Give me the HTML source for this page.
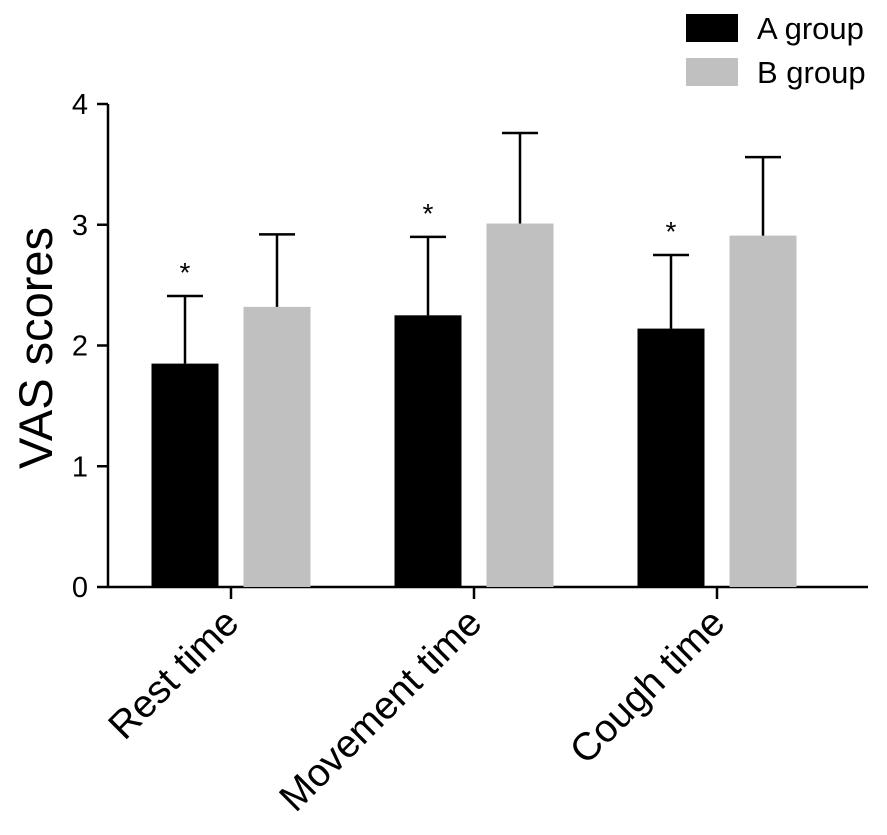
<!DOCTYPE html>
<html><head><meta charset="utf-8"><style>
body{margin:0;background:#fff;}
svg{display:block;font-family:"Liberation Sans",Arial,sans-serif;}
</style></head><body>
<svg id="chart" width="887" height="835"></svg>
<script>
const categories=["Rest time","Movement time","Cough time"];
const seriesA=[1.85,2.25,2.14];
const errA=[0.56,0.65,0.61];
const seriesB=[2.32,3.01,2.91];
const errB=[0.60,0.75,0.65];
const yTicks=[0,1,2,3,4];
const ns="http://www.w3.org/2000/svg";
const svg=document.getElementById('chart');
const y0=587,y4=104,yMax=4;
function y(v){return y0-(y0-y4)*v/yMax;}
const groupCenters0=231,groupStep=243;
function gx(i){return groupCenters0+i*groupStep;}
function mk(tag,attrs,parent){const e=document.createElementNS(ns,tag);for(const k in attrs)e.setAttribute(k,attrs[k]);(parent||svg).appendChild(e);return e;}
let ax=mk('line',{x1:108,y1:y4,x2:108,y2:y0+1,stroke:'#000','stroke-width':2.5});


let axx=mk('line',{x1:107,y1:y0,x2:868,y2:y0,stroke:'#000','stroke-width':2.5});


yTicks.forEach(t=>{
  let l=mk('line',{x1:97,y1:y(t),x2:108,y2:y(t),stroke:'#000','stroke-width':2.5});
  
  
  let tx=mk('text',{x:88,y:y(t)+10,'text-anchor':'end','font-size':29,fill:'#000'});
  tx.textContent=t;
  
  
});
let yl=mk('text',{x:0,y:0,'font-size':47,'text-anchor':'middle',transform:'translate(52,348) rotate(-90)',fill:'#000'});
yl.textContent='VAS scores';


function bar(cx,v,e,fill,name){
  const w=67,bx=cx-w/2;
  const r=mk('rect',{x:bx,y:y(v),width:w,height:y0-y(v),fill:fill});
  
  
  const ex=cx;
  const l=mk('line',{x1:ex,y1:y(v),x2:ex,y2:y(v+e),stroke:'#000','stroke-width':2.5});
  
  
  const c=mk('line',{x1:ex-18,y1:y(v+e),x2:ex+18,y2:y(v+e),stroke:'#000','stroke-width':2.5});
  
  
}
categories.forEach((c,i)=>{
  const cx=gx(i);
  bar(cx-46,seriesA[i],errA[i],'#000','bar-a-'+i);
  bar(cx+46,seriesB[i],errB[i],'#c0c0c0','bar-b-'+i);
  const s=mk('text',{x:cx-46,y:y(seriesA[i]+errA[i])-14,'text-anchor':'middle','font-size':28,fill:'#000'});
  s.textContent='*';
  
  
  const t=mk('line',{x1:cx,y1:y0,x2:cx,y2:y0+12,stroke:'#000','stroke-width':2.5});
  
  
  const lb=mk('text',{x:0,y:0,'text-anchor':'end','font-size':39,fill:'#000',transform:`translate(${cx+10},${y0+38}) rotate(-45)`});
  lb.textContent=c;
  
  
});
[['A group','#000',14],['B group','#c0c0c0',58]].forEach(([n,f,ty],i)=>{
  const r=mk('rect',{x:686,y:ty,width:52,height:28,fill:f});
  
  
  const t=mk('text',{x:757,y:ty+25,'font-size':31,fill:'#000'});
  t.textContent=n;
  
  
});
</script>
</body></html>
